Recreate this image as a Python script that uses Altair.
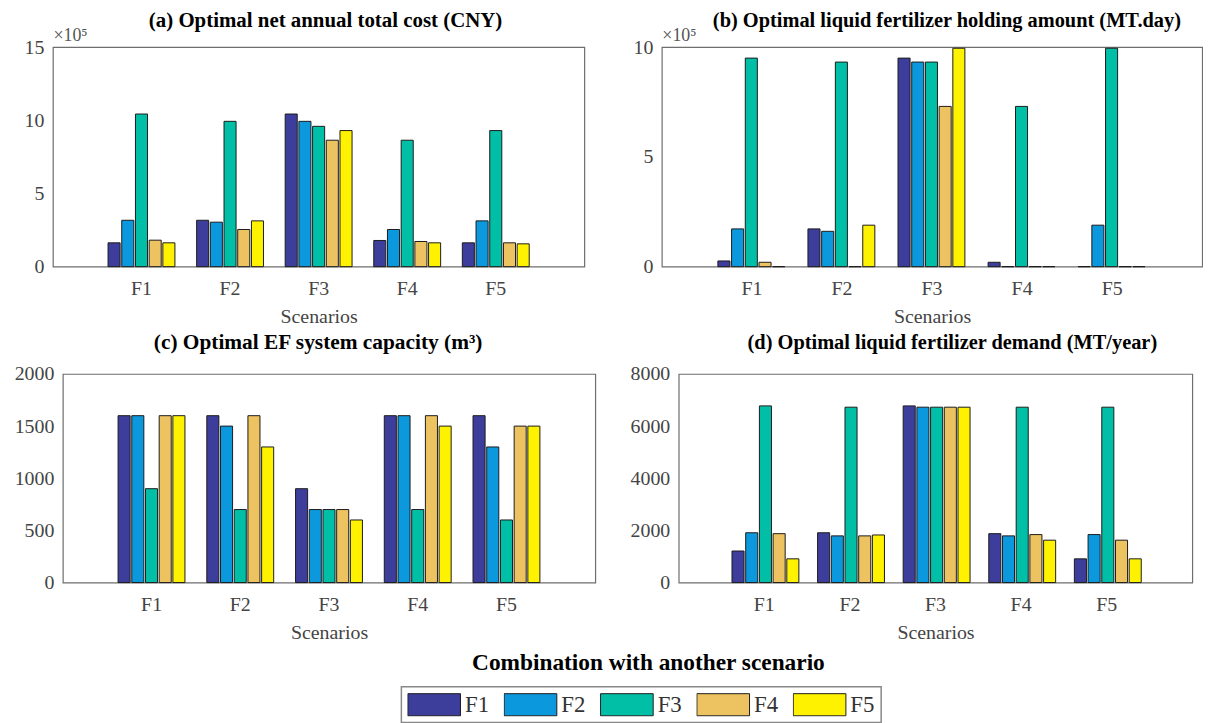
import altair as alt
import pandas as pd

FONT = "Liberation Serif"

scenarios = ["F1", "F2", "F3", "F4", "F5"]
combinations = ["F1", "F2", "F3", "F4", "F5"]
colors = ["#3D3D9B", "#0C98DD", "#00BFA6", "#EDC260", "#FFF200"]

# (a) Optimal net annual total cost (CNY), in units of 10^5
cost_F1 = [1.63, 3.17, 10.43, 1.81, 1.63]
cost_F2 = [3.17, 3.04, 9.93, 2.54, 3.13]
cost_F3 = [10.43, 9.93, 9.59, 8.64, 9.30]
cost_F4 = [1.79, 2.54, 8.64, 1.72, 1.63]
cost_F5 = [1.63, 3.13, 9.30, 1.63, 1.56]

# (b) Optimal liquid fertilizer holding amount (MT.day), in units of 10^5
hold_F1 = [0.26, 1.72, 9.50, 0.20, 0.0]
hold_F2 = [1.72, 1.61, 9.32, 0.0, 1.89]
hold_F3 = [9.50, 9.32, 9.32, 7.30, 9.95]
hold_F4 = [0.20, 0.0, 7.30, 0.0, 0.0]
hold_F5 = [0.0, 1.89, 9.95, 0.0, 0.0]

# (c) Optimal EF system capacity (m3)
cap_F1 = [1600, 1600, 900, 1600, 1600]
cap_F2 = [1600, 1500, 700, 1600, 1300]
cap_F3 = [900, 700, 700, 700, 600]
cap_F4 = [1600, 1600, 700, 1600, 1500]
cap_F5 = [1600, 1300, 600, 1500, 1500]

# (d) Optimal liquid fertilizer demand (MT/year)
dem_F1 = [1210, 1910, 6775, 1875, 910]
dem_F2 = [1910, 1790, 6725, 1790, 1825]
dem_F3 = [6775, 6725, 6725, 6725, 6725]
dem_F4 = [1875, 1790, 6725, 1840, 1625]
dem_F5 = [910, 1840, 6725, 1625, 910]


def table(rows):
    recs = []
    for s, row in zip(scenarios, rows):
        for c, v in zip(combinations, row):
            recs.append({"Scenario": s, "Combination": c, "Value": v})
    return pd.DataFrame(recs)


def panel(rows, title, ymax, step, width, height, extent, title_offset,
          title_size, title_dx, sci=False, legend=None):
    yaxis = dict(values=list(range(0, ymax + 1, step)), format="d", ticks=False,
                 grid=False, domain=False, labelFont=FONT, labelFontSize=20,
                 labelColor="#444444", labelPadding=9,
                 minExtent=extent, maxExtent=extent)
    if sci:
        yaxis.update(title="×10⁵", titleAngle=0, titleX=0, titleY=-3,
                     titleAlign="left", titleBaseline="bottom", titleFont=FONT,
                     titleFontSize=18, titleFontWeight="normal", titleColor="#555555")
    else:
        yaxis.update(title=None)
    color_kw = dict(sort=combinations,
                    scale=alt.Scale(domain=combinations, range=colors))
    if legend is not None:
        color_kw["legend"] = legend
    return alt.Chart(table(rows)).mark_bar(
        stroke="#1c1c1c", strokeWidth=1, opacity=1
    ).encode(
        x=alt.X("Scenario:N", sort=scenarios,
                scale=alt.Scale(paddingInner=0.245, paddingOuter=0.6225),
                axis=alt.Axis(title="Scenarios", labelAngle=0, ticks=False,
                              domain=False, labelFont=FONT, labelFontSize=20,
                              labelColor="#444444", labelPadding=12,
                              titleFont=FONT, titleFontSize=20,
                              titleFontWeight="normal", titleColor="#444444",
                              titlePadding=8)),
        xOffset=alt.XOffset("Combination:N", sort=combinations,
                            scale=alt.Scale(paddingInner=0.12, paddingOuter=0)),
        y=alt.Y("Value:Q", scale=alt.Scale(domain=[0, ymax], nice=False),
                axis=alt.Axis(**yaxis)),
        color=alt.Color("Combination:N", **color_kw),
    ).properties(
        width=width, height=height,
        title=alt.TitleParams(title, font=FONT, fontSize=title_size, fontWeight="bold",
                              color="#000000", anchor="middle", offset=title_offset,
                              dx=title_dx),
    )


legend = alt.Legend(
    orient="none", legendX=351, legendY=644, direction="horizontal", columns=5,
    title=None, symbolType="M-1,-0.42H1V0.42H-1Z", symbolSize=2809,
    symbolStrokeColor="#222222", symbolStrokeWidth=1, symbolOpacity=1,
    labelFont=FONT, labelFontSize=23, labelColor="#333333", labelOffset=4,
    columnPadding=14, clipHeight=24, padding=6, strokeColor="#888888",
)

a = panel([cost_F1, cost_F2, cost_F3, cost_F4, cost_F5],
          "(a) Optimal net annual total cost (CNY)", 15, 5, 535, 221, 34, -5, 21, 7,
          sci=True, legend=legend)
b = panel([hold_F1, hold_F2, hold_F3, hold_F4, hold_F5],
          "(b) Optimal liquid fertilizer holding amount (MT.day)", 10, 5, 544, 221, 34, -5,
          20.5, 15, sci=True)
c = panel([cap_F1, cap_F2, cap_F3, cap_F4, cap_F5],
          "(c) Optimal EF system capacity (m³)", 2000, 500, 536, 210, 54, 11, 21.5, -11)
d = panel([dem_F1, dem_F2, dem_F3, dem_F4, dem_F5],
          "(d) Optimal liquid fertilizer demand (MT/year)", 8000, 2000, 517, 210, 54, 11,
          20.5, 17)

row1 = alt.hconcat(a, b, spacing=42)
row2 = alt.hconcat(c, d, spacing=28).properties(
    title=alt.TitleParams("Combination with another scenario", orient="bottom",
                          anchor="middle", font=FONT, fontSize=23.5, fontWeight="bold",
                          color="#000000", offset=8, dx=48),
)

chart = alt.vconcat(row1, row2, spacing=3, center=True).properties(
    padding={"left": 0, "top": -1, "right": 0, "bottom": 0},
).resolve_scale(color="shared").configure_view(
    stroke="#6e6e6e", strokeWidth=1.2
).configure_legend(
    strokeColor="#888888", strokeWidth=1.5
)

chart.save("out.html", embed_options={"renderer": "svg", "actions": False})
